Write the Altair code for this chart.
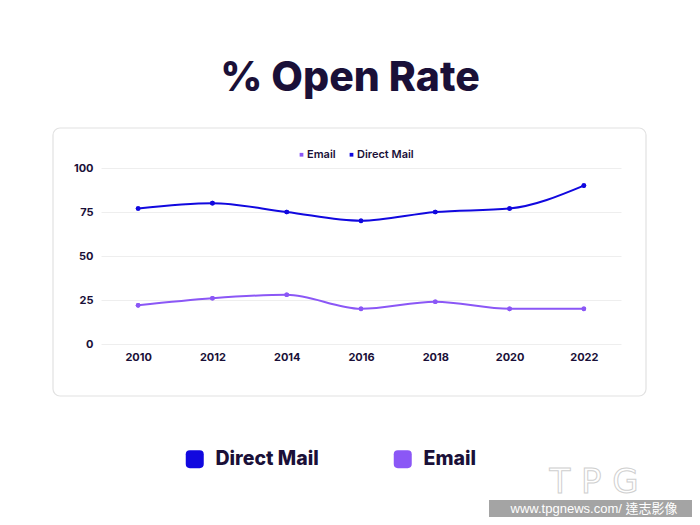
import altair as alt
import pandas as pd

years = [2010, 2012, 2014, 2016, 2018, 2020, 2022]
direct_mail = [77, 80, 75, 70, 75, 77, 90]
email = [22, 26, 28, 20, 24, 20, 20]
series_names = ["Direct Mail", "Email"]
series_colors = ["#1108df", "#8b57f6"]
y_ticks = [0, 25, 50, 75, 100]
title_text = "% Open Rate"
watermark_text = "www.tpgnews.com/ 達志影像"

rows = []
for y, d, e in zip(years, direct_mail, email):
    rows.append({"year": y, "series": "Direct Mail", "value": d})
    rows.append({"year": y, "series": "Email", "value": e})
df = pd.DataFrame(rows)

FONT = "Inter"
DARK = "#1a1038"

x_enc = alt.X("year:Q", scale=alt.Scale(domain=[2009, 2023], nice=False),
              axis=alt.Axis(values=years, format="d", title=None, grid=False,
                            domain=False, ticks=False, labelPadding=7,
                            labelFontSize=11, labelFontWeight="bold",
                            labelColor=DARK, labelFont=FONT))
y_enc = alt.Y("value:Q", scale=alt.Scale(domain=[0, 100], nice=False),
              axis=alt.Axis(values=y_ticks, title=None, grid=True,
                            gridColor="#eeeeee", domain=False, ticks=False,
                            labelPadding=8, labelFontSize=11,
                            labelFontWeight="bold", labelColor=DARK,
                            labelFont=FONT))

one = alt.Data(values=[{"k": 1}])

card = alt.Chart(one).mark_rect(
    fill="transparent", stroke="#e2e2e2", strokeWidth=1.2, cornerRadius=7
).encode(x=alt.value(-48), x2=alt.value(545), y=alt.value(-40), y2=alt.value(228))

title = alt.Chart(one).mark_text(
    text=title_text, font=FONT, fontSize=41, fontWeight=800, color=DARK,
    align="center", baseline="middle"
).encode(x=alt.value(249), y=alt.value(-89))

lines = alt.Chart(df).mark_line(interpolate="monotone", strokeWidth=2).encode(
    x=x_enc, y=y_enc,
    stroke=alt.Stroke("series:N",
                      scale=alt.Scale(domain=series_names, range=series_colors),
                      legend=None),
)

points_top = alt.Chart(df).mark_point(filled=True, size=22, opacity=1).encode(
    x=x_enc, y=y_enc,
    color=alt.Color("series:N",
                    scale=alt.Scale(domain=["Email", "Direct Mail"],
                                    range=[series_colors[1], series_colors[0]]),
                    legend=alt.Legend(orient="none", legendX=195, legendY=-19,
                                      direction="horizontal", title=None,
                                      symbolType="square", symbolSize=14,
                                      labelFontSize=11, labelFontWeight=600,
                                      labelColor=DARK, labelFont=FONT,
                                      labelOffset=0, columnPadding=10,
                                      padding=0, symbolOpacity=1)),
)

rounded = ("M-0.55,-1 L0.55,-1 Q1,-1 1,-0.55 L1,0.55 Q1,1 0.55,1 "
           "L-0.55,1 Q-1,1 -1,0.55 L-1,-0.55 Q-1,-1 -0.55,-1 Z")

points_bottom = alt.Chart(df).transform_calculate(
    group="datum.series == 'Direct Mail' ? 'A' : 'B'"
).mark_point(filled=True, size=22, opacity=1).encode(
    x=x_enc, y=y_enc,
    fill=alt.Fill("group:N",
                  scale=alt.Scale(domain=["A", "B"], range=series_colors),
                  legend=alt.Legend(orient="none", legendX=84, legendY=281,
                                    direction="horizontal", title=None,
                                    labelExpr="datum.value == 'A' ? 'Direct Mail' : 'Email'",
                                    symbolType=rounded, symbolSize=324,
                                    labelFontSize=19.5, labelFontWeight=800,
                                    labelColor=DARK, labelFont=FONT,
                                    labelOffset=11, columnPadding=74,
                                    padding=0, symbolOpacity=1,
                                    symbolStrokeWidth=0)),
)

logo = alt.Chart(one).mark_text(
    text="T P G", font="DejaVu Sans", fontSize=34, fontWeight="normal",
    fill="white", stroke="#cfcfcf", strokeWidth=1, align="center",
    baseline="middle"
).encode(x=alt.value(493), y=alt.value(315))

wm_bar = alt.Chart(one).mark_rect(fill="#9a9a9a", opacity=0.9).encode(
    x=alt.value(388), x2=alt.value(600), y=alt.value(332), y2=alt.value(360))

wm_text = alt.Chart(one).mark_text(
    text=watermark_text, font="Liberation Sans, Noto Sans CJK TC",
    fontSize=13, color="white", align="center", baseline="middle"
).encode(x=alt.value(493), y=alt.value(341))

chart = alt.layer(
    card, title, lines, points_top, points_bottom, logo, wm_bar, wm_text
).properties(
    width=520, height=176,
    autosize=alt.AutoSizeParams(type="none"),
    padding={"left": 93, "top": 160, "right": 71, "bottom": 173},
    background="white",
).configure_view(strokeWidth=0)

chart.save("out.html", embed_options={"renderer": "svg", "actions": False})
